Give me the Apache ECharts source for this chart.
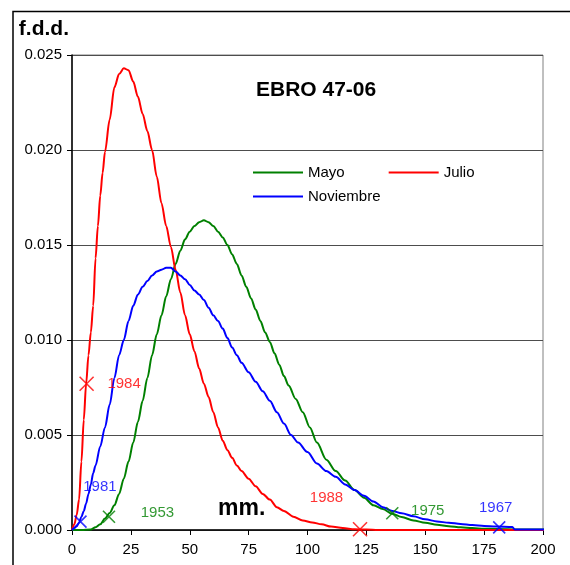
<!DOCTYPE html>
<html>
<head>
<meta charset="utf-8">
<script src="https://cdn.jsdelivr.net/npm/echarts@6/dist/echarts.min.js"></script>
<style>html,body{margin:0;padding:0;background:#fff}#c{width:570px;height:565px}</style>
</head>
<body>
<div id="c"></div>
<script>
// Data: [mm, f.d.d.]
const mayo = [[0,0],[4,0],[8,0.00003],[10,0.00014],[12,0.0003],[14,0.0006],[16,0.0009],[18,0.0013],[20,0.0019],[22,0.0027],[24,0.0036],[26,0.0046],[28,0.0057],[30,0.0068],[32,0.0080],[34,0.0092],[36,0.0103],[38,0.0113],[40,0.0123],[42,0.0132],[44,0.0140],[46,0.0147],[48,0.0153],[50,0.0157],[52,0.0160],[54,0.0162],[56,0.0163],[58,0.0162],[60,0.0160],[62,0.0157],[64,0.0154],[66,0.0150],[68,0.0145],[70,0.0140],[72,0.0134],[74,0.0128],[76,0.0122],[78,0.0116],[80,0.0110],[82,0.0104],[84,0.0099],[86,0.0093],[88,0.0087],[90,0.0081],[92,0.0076],[95,0.0069],[98,0.0062],[101,0.0054],[104,0.0046],[108,0.0037],[112,0.0031],[116,0.0026],[120,0.0021],[124,0.0017],[128,0.0013],[132,0.0011],[136,0.00085],[140,0.00068],[145,0.00050],[150,0.00038],[155,0.00028],[160,0.00020],[165,0.00014],[170,0.0001],[175,0.00007],[180,0.00005],[190,0.00003],[204,0.00002]];
const julio = [[0,0],[1,0.0003],[2,0.0008],[3,0.0016],[4,0.0036],[5,0.0058],[6,0.0077],[7,0.0092],[8,0.0104],[9,0.0118],[10,0.0143],[11,0.0160],[12,0.0176],[13,0.0188],[14,0.0199],[16,0.0216],[18,0.0233],[20,0.0240],[22,0.0243],[24,0.0242],[26,0.0236],[28,0.0228],[30,0.0219],[32,0.0210],[34,0.0200],[36,0.0186],[38,0.0172],[40,0.0160],[42,0.0149],[44,0.0137],[46,0.0125],[48,0.0113],[50,0.0103],[52,0.0094],[54,0.0085],[56,0.0077],[58,0.0070],[60,0.0062],[62,0.0054],[64,0.0047],[66,0.0042],[68,0.0038],[70,0.0034],[72,0.0031],[75,0.0027],[78,0.0023],[81,0.0019],[84,0.0016],[87,0.0012],[90,0.0010],[94,0.0007],[98,0.0005],[102,0.0004],[106,0.0003],[110,0.00018],[115,0.0001],[120,0.00004],[125,0.00002],[130,0],[150,0],[175,0],[204,0]];
const noviembre = [[0,0],[1,0.0001],[2,0.0002],[3,0.0004],[4,0.0007],[5,0.0010],[6,0.0014],[7,0.0019],[8,0.0024],[9,0.0030],[10,0.0034],[12,0.0044],[14,0.0054],[16,0.0066],[18,0.0080],[20,0.0092],[22,0.0100],[24,0.0110],[26,0.0118],[28,0.0124],[30,0.0128],[32,0.0131],[34,0.0134],[36,0.0136],[38,0.0137],[40,0.0138],[42,0.0138],[44,0.0136],[46,0.0134],[48,0.0132],[50,0.0129],[52,0.0126],[54,0.0124],[56,0.0121],[58,0.0117],[60,0.0113],[62,0.0110],[64,0.0106],[66,0.0101],[68,0.0096],[70,0.0092],[72,0.0088],[75,0.0083],[78,0.0078],[81,0.0073],[84,0.0068],[87,0.0062],[90,0.0056],[93,0.0050],[96,0.0046],[100,0.0041],[104,0.0035],[108,0.0031],[112,0.0028],[116,0.0024],[120,0.0021],[124,0.0018],[128,0.0015],[132,0.0012],[136,0.0010],[140,0.00088],[145,0.00072],[150,0.00056],[155,0.00045],[160,0.00038],[165,0.00032],[170,0.00026],[175,0.00021],[180,0.00018],[187,0.00016],[188,0.00003],[204,0.00002]];

// Marked years
const markerYears  = ['1984', '1981', '1953', '1988', '1975', '1967'];
const markerX      = [6.2, 3.6, 15.7, 122.3, 136, 181.4];
const markerY      = [0.0077, 0.00044, 0.0007, 0.00004, 0.00088, 0.00014];
const markerSeries = ['Julio', 'Noviembre', 'Mayo', 'Julio', 'Mayo', 'Noviembre'];

const xTickInterval = 25;
const yTickInterval = 0.005;

const colors = { Mayo: '#008000', Julio: '#FF0000', Noviembre: '#0000FF' };
const labelOffsets = { '1984': [13, 0], '1981': [-4, -35], '1953': [25, -4], '1988': [-58, -31], '1975': [12, -2], '1967': [-27, -19] };
const symSizes = { '1984': 14, '1988': 14 };
const FONT = "'Liberation Sans', Arial, sans-serif";

function markerData(name) {
  const out = [];
  for (let i = 0; i < markerYears.length; i++) {
    if (markerSeries[i] !== name) continue;
    const y = markerYears[i];
    const s = symSizes[y] || 12;
    out.push({
      value: [markerX[i], markerY[i]], name: y, symbolSize: s,
      label: { show: true, position: 'right', distance: 0, offset: labelOffsets[y], formatter: y }
    });
  }
  return out;
}

const lineSeries = ['Mayo', 'Julio', 'Noviembre'].map(n => ({
  name: n, type: 'line', symbol: 'none', showSymbol: false, clip: false,
  smooth: 0.3, smoothMonotone: 'x',
  data: n === 'Mayo' ? mayo : (n === 'Julio' ? julio : noviembre),
  lineStyle: { color: colors[n], width: 2 }, itemStyle: { color: colors[n] }, z: 3
}));
const scatterSeries = ['Mayo', 'Julio', 'Noviembre'].map(n => ({
  name: n + ' años', type: 'scatter', clip: false,
  symbol: 'path://M0,0L10,10M10,0L0,10',
  data: markerData(n),
  itemStyle: { color: 'rgba(0,0,0,0)', borderColor: colors[n], borderWidth: 1.6 },
  label: { color: colors[n], fontSize: 15, fontFamily: FONT },
  z: 4
}));

const legendCommon = { padding: 0, icon: 'rect', itemWidth: 50, itemHeight: 2,
  textStyle: { fontFamily: FONT, fontSize: 15, color: '#000' } };

const chart = echarts.init(document.getElementById('c'), null, { renderer: 'canvas' });
chart.setOption({
  animation: false,
  backgroundColor: '#fff',
  title: { text: 'EBRO 47-06', left: 256, top: 80, padding: 0,
    textStyle: { fontFamily: FONT, fontWeight: 'bold', fontSize: 21, color: '#000' } },
  legend: [
    Object.assign({ data: ['Mayo', 'Julio'], left: 253, top: 165, itemGap: 44 }, legendCommon),
    Object.assign({ data: ['Noviembre'], left: 253, top: 189 }, legendCommon)
  ],
  grid: { left: 72, right: 27, top: 55, bottom: 35, show: true, borderColor: '#808080', borderWidth: 1, backgroundColor: 'transparent' },
  xAxis: {
    type: 'value', min: 0, max: 200, interval: xTickInterval,
    axisLine: { show: true, lineStyle: { color: '#000', width: 1.5 } },
    axisTick: { show: true, inside: false, length: 5, lineStyle: { color: '#000' } },
    axisLabel: { color: '#000', fontSize: 15, fontFamily: FONT, margin: 12 },
    splitLine: { show: false }
  },
  yAxis: {
    type: 'value', min: 0, max: 0.025, interval: yTickInterval,
    name: 'f.d.d.', nameLocation: 'end', nameGap: 15,
    nameTextStyle: { fontFamily: FONT, fontWeight: 'bold', fontSize: 21, color: '#000', align: 'right', verticalAlign: 'bottom', padding: [0, 3, 0, 0] },
    axisLine: { show: true, lineStyle: { color: '#000', width: 1.5 } },
    axisTick: { show: true, inside: false, length: 5, lineStyle: { color: '#000' } },
    axisLabel: { color: '#000', fontSize: 15, fontFamily: FONT, margin: 10, formatter: v => v.toFixed(3) },
    splitLine: { show: true, lineStyle: { color: '#4d4d4d', width: 1 } }
  },
  graphic: [
    { type: 'rect', shape: { x: 13, y: 11.5, width: 700, height: 700 }, style: { fill: 'none', stroke: '#000', lineWidth: 1.5 }, silent: true, z: -1 },
    { type: 'text', left: 218, top: 497, style: { text: 'mm.', fontFamily: FONT, fontWeight: 'bold', fontSize: 23, fill: '#000' }, z: 10 }
  ],
  series: lineSeries.concat(scatterSeries)
});
</script>
</body>
</html>
